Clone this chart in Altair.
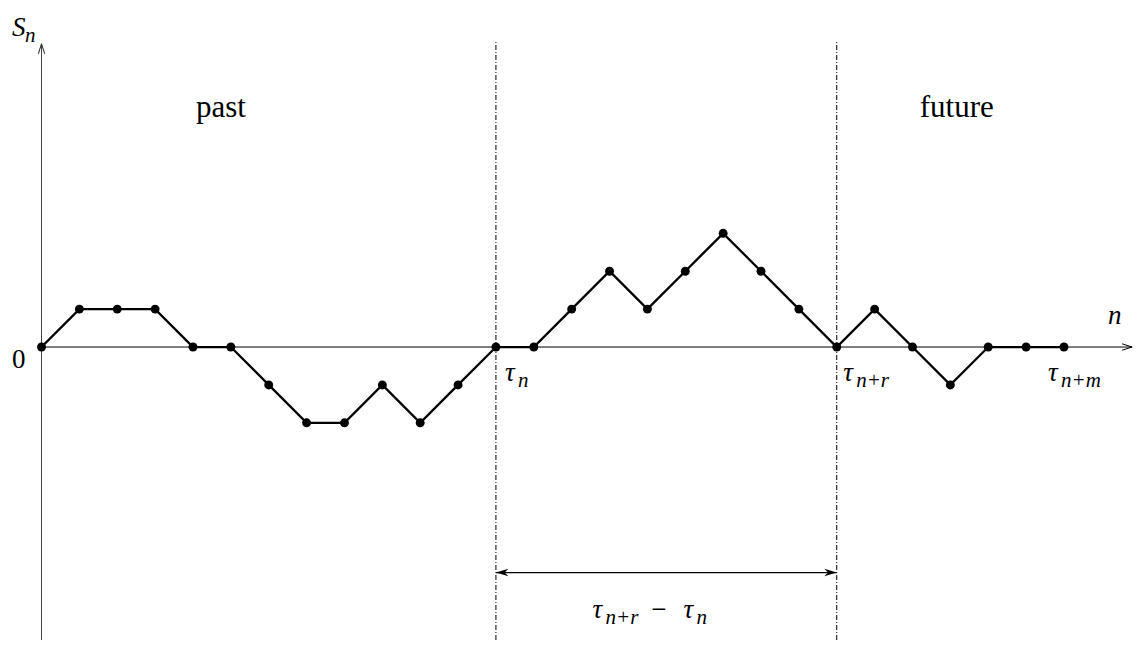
import altair as alt
import pandas as pd

# ---- data ----
steps = list(range(28))
walk = [0, 1, 1, 1, 0, 0, -1, -2, -2, -1, -2, -1, 0, 0, 1, 2, 1, 2, 3, 2, 1, 0, 1, 0, -1, 0, 0, 0]
guide_steps = [12, 21]            # tau_n and tau_{n+r}

x_min, x_max = -0.885, 28.876
y_min, y_max = -7.73, 8.945
axis_x_end = 28.8
axis_y_top = 8.0
guide_top = 8.05
span_y = -5.95

region_text = ["past", "future"]
region_x = [4.74, 24.17]
region_y = [6.07, 6.07]

math_main = ["S", "τ", "τ", "τ", "τ", "τ", "n"]
math_x = [-0.78, 12.24, 21.17, 26.58, 14.55, 16.95, 28.16]
math_y = [8.2, -0.9, -0.9, -0.9, -7.15, -7.15, 0.61]
math_sub = ["n", "n", "n+r", "n+m", "n+r", "n", ""]

minus_x, minus_y = 16.3, -7.15
zero_x, zero_y = -0.42, -0.55

# ---- tables ----
walk_df = pd.DataFrame({"x": steps, "y": walk})
yaxis_df = pd.DataFrame({"x": [0], "y": [y_min], "y2": [axis_y_top]})
xaxis_df = pd.DataFrame({"x": [0], "x2": [axis_x_end], "y": [0]})
guide_df = pd.DataFrame({"x": guide_steps, "y": [y_min] * 2, "y2": [guide_top] * 2})
span_df = pd.DataFrame({"x": [guide_steps[0]], "x2": [guide_steps[1]], "y": [span_y]})
main_df = pd.DataFrame({"x": math_x, "y": math_y, "t": math_main})
sub_df = pd.DataFrame({"x": math_x, "y": math_y, "t": math_sub})
sub_df = sub_df[sub_df["t"] != ""]
region_df = pd.DataFrame({"x": region_x, "y": region_y, "t": region_text})

xs = alt.Scale(domain=[x_min, x_max], nice=False, zero=False)
ys = alt.Scale(domain=[y_min, y_max], nice=False, zero=False)
X = alt.X("x:Q", scale=xs, axis=None)
Y = alt.Y("y:Q", scale=ys, axis=None)

yaxis = alt.Chart(yaxis_df).mark_rule(color="#444", strokeWidth=1).encode(x=X, y=Y, y2="y2:Q")
xaxis = alt.Chart(xaxis_df).mark_rule(color="black", strokeWidth=1).encode(x=X, x2="x2:Q", y=Y)
guides = alt.Chart(guide_df).mark_rule(color="black", strokeWidth=1, strokeDash=[5, 2, 1, 2]).encode(
    x=X, y=Y, y2="y2:Q")
span = alt.Chart(span_df).mark_rule(color="black", strokeWidth=1.3).encode(x=X, x2="x2:Q", y=Y)

up_head = alt.Chart(yaxis_df).mark_point(
    shape="M-0.32,1L0,0L0.32,1", filled=False, stroke="#222", strokeWidth=1, size=400, opacity=1
).encode(x=X, y=alt.Y("y2:Q", scale=ys, axis=None))
right_head = alt.Chart(xaxis_df).mark_point(
    shape="M-1,-0.32L0,0L-1,0.32", filled=False, stroke="black", strokeWidth=1, size=400, opacity=1
).encode(x=alt.X("x2:Q", scale=xs, axis=None), y=Y)
span_r = alt.Chart(span_df).mark_point(
    shape="M0,0L-1,-0.3L-0.7,0L-1,0.3Z", filled=True, color="black", size=620, opacity=1
).encode(x=alt.X("x2:Q", scale=xs, axis=None), y=Y)
span_l = alt.Chart(span_df).mark_point(
    shape="M0,0L1,-0.3L0.7,0L1,0.3Z", filled=True, color="black", size=620, opacity=1
).encode(x=X, y=Y)

path = alt.Chart(walk_df).mark_line(color="black", strokeWidth=2.3).encode(x=X, y=Y)
dots = alt.Chart(walk_df).mark_circle(color="black", size=80, opacity=1).encode(x=X, y=Y)

main_txt = alt.Chart(main_df).mark_text(
    font="Liberation Serif", fontStyle="italic", fontSize=27, align="left", baseline="alphabetic",
    color="black"
).encode(x=X, y=Y, text="t:N")
sub_txt = alt.Chart(sub_df).mark_text(
    font="Liberation Serif", fontStyle="italic", fontSize=21, align="left", baseline="alphabetic",
    dx=13, dy=6, color="black"
).encode(x=X, y=Y, text="t:N")
minus_txt = alt.Chart(pd.DataFrame({"x": [minus_x], "y": [minus_y], "t": ["−"]})).mark_text(
    font="Liberation Serif", fontSize=27, align="center", baseline="alphabetic", color="black"
).encode(x=X, y=Y, text="t:N")
zero_txt = alt.Chart(pd.DataFrame({"x": [zero_x], "y": [zero_y], "t": ["0"]})).mark_text(
    font="Liberation Serif", fontSize=27, align="right", baseline="alphabetic", color="black"
).encode(x=X, y=Y, text="t:N")
region_txt = alt.Chart(region_df).mark_text(
    font="Liberation Serif", fontSize=31, align="center", baseline="alphabetic", color="black"
).encode(x=X, y=Y, text="t:N")

chart = alt.layer(
    yaxis, xaxis, guides, span, up_head, right_head, span_r, span_l,
    path, dots, main_txt, sub_txt, minus_txt, zero_txt, region_txt
).properties(
    width=1127, height=632, padding=0, autosize=alt.AutoSizeParams(type="none")
).configure_view(stroke=None)

chart.save("out.html", embed_options={"renderer": "svg", "actions": False})
